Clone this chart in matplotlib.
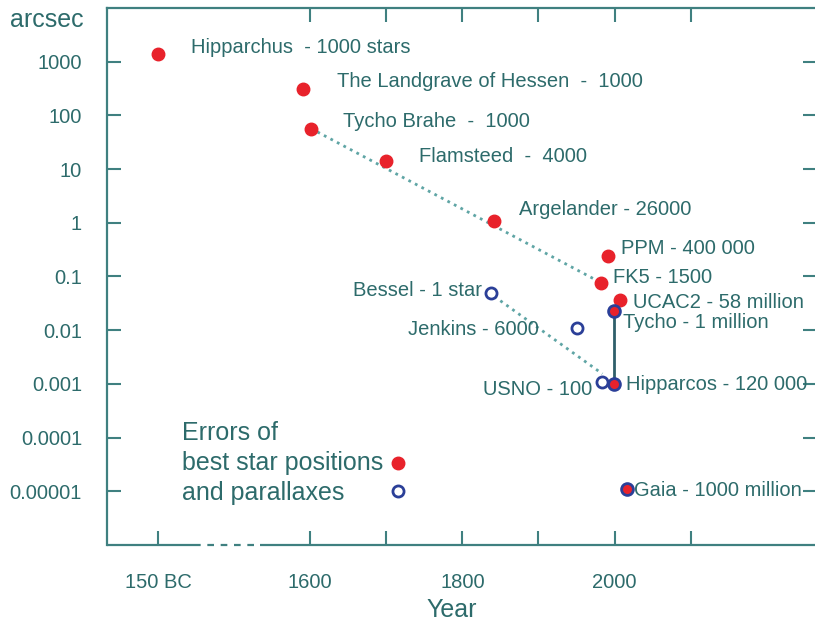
import matplotlib.pyplot as plt
from matplotlib.transforms import blended_transform_factory

plt.rcParams['font.family'] = ['Liberation Sans', 'DejaVu Sans']

TEXT = '#2d6b6b'
AXC = '#3f8080'
RED = '#e8222b'
BLUE = '#2b3f98'
DOT = '#5fa5a5'

# 150 BC is drawn at a pseudo year of 1400 (broken axis)
pos_names = ['Hipparchus  - 1000 stars', 'The Landgrave of Hessen  -  1000',
             'Tycho Brahe  -  1000', 'Flamsteed  -  4000', 'Argelander - 26000',
             'PPM - 400 000', 'FK5 - 1500', 'UCAC2 - 58 million']
pos_year = [1400, 1591, 1601, 1699, 1842, 1991, 1982, 2007]
pos_err = [1400, 316, 57, 14, 1.09, 0.245, 0.077, 0.036]

par_names = ['Bessel - 1 star', 'Jenkins - 6000', 'USNO - 100']
par_year = [1837, 1950, 1984]
par_err = [0.05, 0.011, 0.0011]

both_names = ['Tycho - 1 million', 'Hipparcos - 120 000', 'Gaia - 1000 million']
both_year = [1999, 1999, 2016]
both_err = [0.023, 0.001, 1.1e-5]

xticks = [1400, 1600, 1700, 1800, 1900, 2000, 2100]
xlabels = ['150 BC', '1600', '', '1800', '', '2000', '']
yticks = [1000, 100, 10, 1, 0.1, 0.01, 0.001, 0.0001, 0.00001]
ylabels = ['1000', '100', '10', '1', '0.1', '0.01', '0.001', '0.0001', '0.00001']

# label offsets in pixels
pos_off = [(33, 6), (34, 7), (32, 7), (33, 5), (25, 11), (13, 7), (12, 5), (13, -2)]
par_off = [(-9, 2), (-38, -2), (-10, -8)]
both_off = [(9, -12), (12, -1), (7, -1)]

fig = plt.figure(figsize=(8.15, 6.27), dpi=100)
ax = fig.add_axes([107 / 815, 1 - 545 / 627, 710 / 815, 537 / 627])
ax.set_yscale('log')
ax.set_xlim(1333, 2266)
ax.set_ylim(1e-6, 1e4)

# dotted trend lines and Tycho-Hipparcos bar
ax.plot([pos_year[2], pos_year[6]], [pos_err[2], pos_err[6]], ls=':', color=DOT, lw=2, zorder=1)
ax.plot([par_year[0] + 5, par_year[2]], [par_err[0] * 0.85, par_err[2] * 1.4], ls=':', color=DOT, lw=2, zorder=1)
ax.plot([both_year[0], both_year[1]], [both_err[0], both_err[1]], color='#2f5f6a', lw=2, zorder=1)

ax.plot(pos_year, pos_err, 'o', ms=9, color=RED, mec=RED, ls='none', zorder=3)
ax.plot(par_year, par_err, 'o', ms=8, mfc='white', mec=BLUE, mew=2, ls='none', zorder=3)
ax.plot(both_year, both_err, 'o', ms=8.5, mfc=RED, mec=BLUE, mew=2, ls='none', zorder=3)

for names, xs, ys, offs, ha in [(pos_names, pos_year, pos_err, pos_off, 'left'),
                                (par_names, par_year, par_err, par_off, 'right'),
                                (both_names, both_year, both_err, both_off, 'left')]:
    for n, x, y, o in zip(names, xs, ys, offs):
        ax.annotate(n, (x, y), xytext=o, textcoords='offset pixels', ha=ha, va='center',
                    fontsize=14.5, color=TEXT, annotation_clip=False)

# legend-like markers
ax.plot([1716], [3.3e-5], 'o', ms=9, color=RED, ls='none')
ax.plot([1716], [1.0e-5], 'o', ms=8, mfc='white', mec=BLUE, mew=2, ls='none')
fig.text(182 / 815, 1 - 463 / 627, 'Errors of\nbest star positions\nand parallaxes',
         ha='left', va='center', fontsize=18, color=TEXT, linespacing=1.3)

for s in ax.spines.values():
    s.set_color(AXC)
    s.set_linewidth(1.6)
ax.spines['bottom'].set_visible(False)
tr = blended_transform_factory(ax.transData, ax.transAxes)
ax.plot([1333, 1447], [0, 0], color=AXC, lw=1.6, transform=tr, clip_on=False, solid_capstyle='butt')
ax.plot([1447, 1534], [0, 0], color=AXC, lw=1.6, ls=(0, (3, 3)), transform=tr, clip_on=False)
ax.plot([1534, 2266], [0, 0], color=AXC, lw=1.6, transform=tr, clip_on=False, solid_capstyle='butt')

ax.set_xticks(xticks)
ax.set_xticklabels(xlabels)
ax.set_yticks(yticks)
ax.set_yticklabels(ylabels)
ax.minorticks_off()
ax.tick_params(direction='in', length=10, width=1.5, color=AXC, labelcolor=TEXT,
               labelsize=14.5, top=True, right=True)
ax.tick_params(axis='x', pad=20)
ax.tick_params(axis='y', pad=18)
secx = ax.secondary_xaxis('top')
secx.set_xticks(xticks[1:])
secx.set_xticklabels([])
secx.tick_params(direction='in', length=10, width=1.5, color=AXC)
secx.spines['top'].set_visible(False)
ax.tick_params(top=False)

fig.text(10 / 815, 1 - 20 / 627, 'arcsec', ha='left', va='center', fontsize=18, color=TEXT)
fig.text(452 / 815, 1 - 610 / 627, 'Year', ha='center', va='center', fontsize=18, color=TEXT)

fig.savefig('out.png', dpi=100)
